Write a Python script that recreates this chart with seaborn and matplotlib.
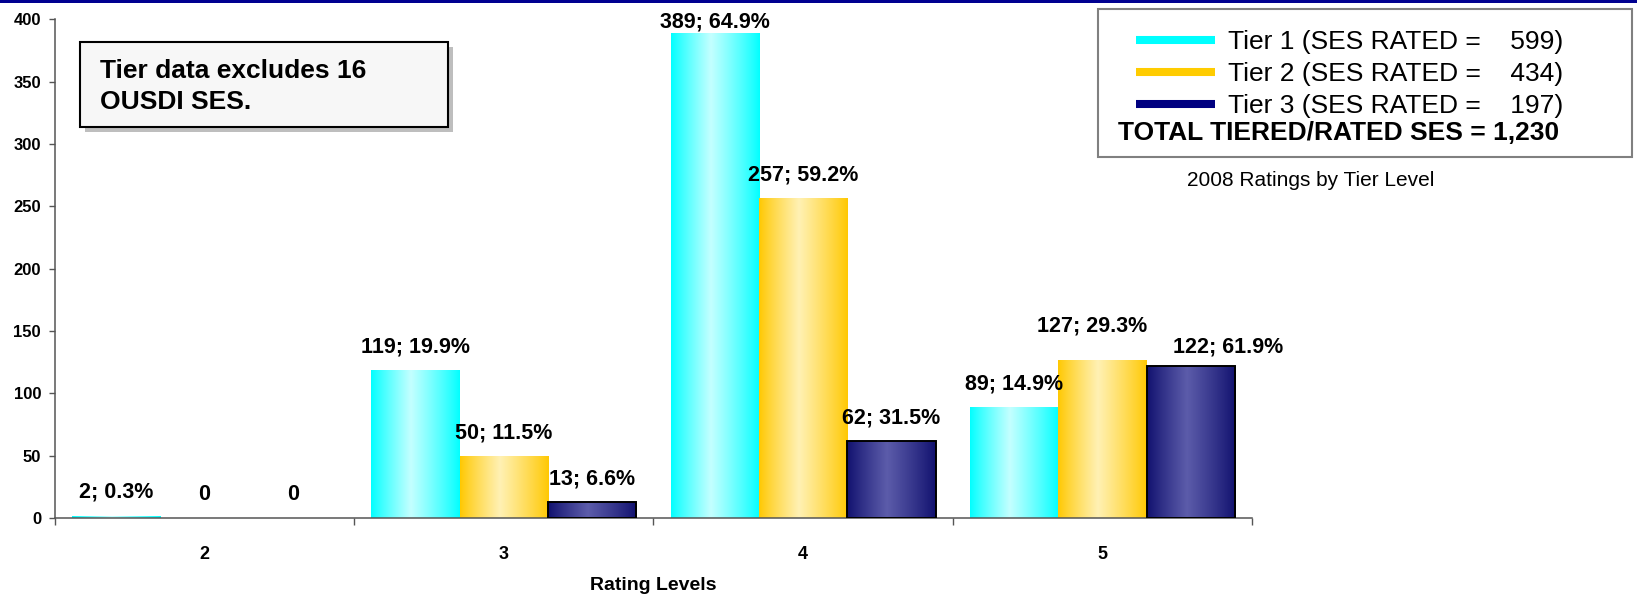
import numpy as np
import pandas as pd
import matplotlib
matplotlib.use("Agg")
import matplotlib.pyplot as plt
import seaborn as sns
from matplotlib.patches import Rectangle
from matplotlib.lines import Line2D
from matplotlib.colors import to_rgb

# ---------------- data ----------------
ratings = ["2", "3", "4", "5"]
tiers = ["Tier 1", "Tier 2", "Tier 3"]
tier1 = [2, 119, 389, 89]
tier2 = [0, 50, 257, 127]
tier3 = [0, 13, 62, 122]
tier1_pct = [0.3, 19.9, 64.9, 14.9]
tier2_pct = [0.0, 11.5, 59.2, 29.3]
tier3_pct = [0.0, 6.6, 31.5, 61.9]
tier_rated = [599, 434, 197]
total_rated = "1,230"
yticks = [0, 50, 100, 150, 200, 250, 300, 350, 400]
note_lines = ["Tier data excludes 16", "OUSDI SES."]
chart_title = "2008 Ratings by Tier Level"
x_title = "Rating Levels"

# ---------------- styling ----------------
solid = ["#00FFFF", "#FFCC00", "#000080"]
grad_edge = ["#00FFFF", "#FFC800", "#10106E"]
grad_mid = ["#C4FFFF", "#FFF1B4", "#5C5CAA"]
# manual label nudges (pixels: right, down) as in the original chart
label_nudge = {(1, 3): (-10, -11), (2, 3): (37, 4)}

sns.set_theme(style="white")
plt.rcParams["font.family"] = ["Liberation Sans", "DejaVu Sans"]
for k in ["text.color", "axes.labelcolor", "xtick.color", "ytick.color"]:
    plt.rcParams[k] = "black"

W, H = 1637, 598
fig = plt.figure(figsize=(W / 100, H / 100), dpi=100)
fig.patch.set_facecolor("white")

def fx(x):
    return x / W

def fy(y):
    return 1 - y / H

ax = fig.add_axes([fx(55), fy(518), 1197 / W, 498.7 / H])

rows = []
for t, vals in zip(tiers, [tier1, tier2, tier3]):
    for r, v in zip(ratings, vals):
        rows.append({"Rating": r, "Tier": t, "Count": v})
df = pd.DataFrame(rows)

sns.barplot(data=df, x="Rating", y="Count", hue="Tier", order=ratings,
            hue_order=tiers, palette=solid, width=0.886, saturation=1,
            legend=False, ax=ax, errorbar=None)


def gradient(edge, mid, peak=0.45, n=256):
    t = np.linspace(0, 1, n)
    w = np.where(t < peak, t / peak, (1 - t) / (1 - peak))
    w = np.clip(w, 0, 1) ** 0.9
    e = np.array(to_rgb(edge))
    m = np.array(to_rgb(mid))
    cols = e[None, :] * (1 - w[:, None]) + m[None, :] * w[:, None]
    return cols[None, :, :]


pcts = [tier1_pct, tier2_pct, tier3_pct]
vals_all = [tier1, tier2, tier3]
for hi, cont in enumerate(ax.containers):
    g = gradient(grad_edge[hi], grad_mid[hi])
    for bi, patch in enumerate(cont.patches):
        x0 = patch.get_x()
        w = patch.get_width()
        h = patch.get_height()
        if h > 0:
            im = ax.imshow(g, extent=(x0, x0 + w, 0, h), aspect="auto",
                           interpolation="bilinear", zorder=2)
            im.set_clip_path(patch)
        patch.set_facecolor("none")
        patch.set_zorder(3)
        if hi == 2 and h > 0:
            patch.set_edgecolor("black")
            patch.set_linewidth(1.4)
        else:
            patch.set_edgecolor("none")
            patch.set_linewidth(0)
        v = vals_all[hi][bi]
        label = "0" if v == 0 else f"{v}; {pcts[hi][bi]:.1f}%"
        ly = min(v + 18.5, 398)
        dx, dy = label_nudge.get((hi, bi), (0, 0))
        ax.annotate(label, (x0 + w / 2, ly), xytext=(dx * 0.72, -dy * 0.72),
                    textcoords="offset points", ha="center", va="center",
                    fontsize=15.5, fontweight="bold", color="black", zorder=5)

ax.set_xlim(-0.5, 3.5)
ax.set_ylim(0, 400)

# axes / ticks
ax.set_xticks([-0.5, 0.5, 1.5, 2.5, 3.5])
ax.set_xticklabels([])
ax.set_xticks([0, 1, 2, 3], minor=True)
ax.set_xticklabels(ratings, minor=True)
ax.tick_params(axis="x", which="major", bottom=True, direction="out",
               length=5, width=1, color="#555555")
ax.tick_params(axis="x", which="minor", bottom=True, length=0, pad=20,
               labelsize=13)
for lbl in ax.get_xticklabels(minor=True):
    lbl.set_fontweight("bold")

ax.set_yticks(yticks)
ax.set_yticklabels([str(v) for v in yticks])
ax.tick_params(axis="y", left=True, direction="out", length=4, width=1,
               color="#555555", pad=6, labelsize=12)
for lbl in ax.get_yticklabels():
    lbl.set_fontweight("bold")

for s in ["top", "right"]:
    ax.spines[s].set_visible(False)
for s in ["left", "bottom"]:
    ax.spines[s].set_color("#555555")
    ax.spines[s].set_linewidth(1.1)
ax.set_facecolor("white")
ax.grid(False)

ax.set_ylabel("")
ax.set_xlabel(x_title, fontsize=14, fontweight="bold")
ax.xaxis.set_label_coords(0.5, (518 - 586) / 498.7)
ax.xaxis.label.set_va("center")

# top border band
fig.patches.append(Rectangle((0, fy(3)), 1, 3 / H, transform=fig.transFigure,
                             facecolor="#000090", edgecolor="none", zorder=10))

# note box with shadow
bx0, bx1, by0, by1 = 80, 448, 42, 127
fig.patches.append(Rectangle((fx(bx0 + 5), fy(by1 + 5)), (bx1 - bx0) / W,
                             (by1 - by0) / H, transform=fig.transFigure,
                             facecolor="#BEBEBE", edgecolor="none", zorder=6))
fig.patches.append(Rectangle((fx(bx0), fy(by1)), (bx1 - bx0) / W,
                             (by1 - by0) / H, transform=fig.transFigure,
                             facecolor="#F7F7F7", edgecolor="black",
                             linewidth=1.5, zorder=7))
for i, line in enumerate(note_lines):
    fig.text(fx(100), fy(71 + 31 * i), line, fontsize=19, fontweight="bold",
             ha="left", va="center", zorder=8)

# legend frame
lx0, lx1, ly0, ly1 = 1098, 1632, 9, 157
fig.patches.append(Rectangle((fx(lx0), fy(ly1)), (lx1 - lx0) / W,
                             (ly1 - ly0) / H, transform=fig.transFigure,
                             facecolor="white", edgecolor="#808080",
                             linewidth=1.5, zorder=1))
handles = [Line2D([0], [0], color=c, lw=5.8, solid_capstyle="butt")
           for c in solid]
labels = [f"{t} (SES RATED =    {n})" for t, n in zip(tiers, tier_rated)]
leg = fig.legend(handles, labels, loc="upper left",
                 bbox_to_anchor=(fx(1136), fy(30)),
                 bbox_transform=fig.transFigure, frameon=False, fontsize=19,
                 handlelength=2.99, handletextpad=0.49, borderpad=0,
                 borderaxespad=0, labelspacing=0.31)
leg.set_zorder(12)
fig.text(fx(1118), fy(133), f"TOTAL TIERED/RATED SES = {total_rated}",
         fontsize=19, fontweight="bold", ha="left", va="center", zorder=12)

fig.text(fx(1311), fy(180), chart_title, fontsize=15, ha="center",
         va="center")

fig.savefig("out.png", dpi=100, facecolor="white")
